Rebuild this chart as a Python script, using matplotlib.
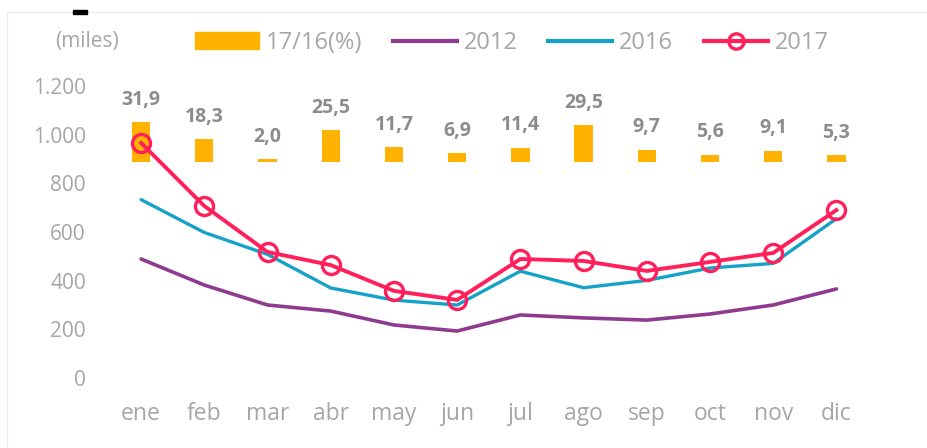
import numpy as np
import matplotlib.pyplot as plt
from matplotlib.patches import Rectangle, Patch
from matplotlib.lines import Line2D

plt.rcParams['font.family'] = ['Open Sans', 'DejaVu Sans']

# data
meses = ['ene', 'feb', 'mar', 'abr', 'may', 'jun', 'jul', 'ago', 'sep', 'oct', 'nov', 'dic']
v2012 = [489, 382, 300, 275, 218, 193, 259, 247, 238, 263, 300, 366]
v2016 = [733, 598, 508, 370, 320, 300, 439, 371, 401, 452, 471, 655]
v2017 = [966, 707, 518, 464, 358, 321, 489, 481, 440, 477, 514, 690]
pct = [31.9, 18.3, 2.0, 25.5, 11.7, 6.9, 11.4, 29.5, 9.7, 5.6, 9.1, 5.3]

gris = '#a6a6a6'
c_bar = '#ffb300'
c12 = '#8e3a8f'
c16 = '#15a2c9'
c17 = '#ff1f5a'

fig = plt.figure(figsize=(9.28, 4.48), dpi=100)
ax = fig.add_axes([109.5 / 928, 70 / 448, 758.5 / 928, 292 / 448])
ax2 = ax.twinx()
ax.set_zorder(ax2.get_zorder() + 1)
ax.patch.set_visible(False)

x = np.arange(len(meses))

# bars on secondary axis, baseline sits near 880 on the main scale
ax2.bar(x, pct, width=0.29, color=c_bar)
ax2.set_ylim(-172.8, 60.8)
ax2.set_yticks([])
for i, p in enumerate(pct):
    ax2.text(i, p + 10, f'{p:.1f}'.replace('.', ','), ha='center', va='bottom',
             fontsize=14, fontweight='bold', color='#8c8c8c')

ax.plot(x, v2012, color=c12, lw=2.6, solid_capstyle='round')
ax.plot(x, v2016, color=c16, lw=2.4, solid_capstyle='round')
ax.plot(x, v2017, color=c17, lw=2.8, marker='o', markersize=13,
        markerfacecolor='none', markeredgecolor=c17, markeredgewidth=2.4)

ax.set_xlim(-0.5, 11.5)
ax.set_ylim(0, 1200)
ax.set_xticks(x)
ax.set_xticklabels(meses, fontsize=16.5, color=gris)
ax.set_yticks(range(0, 1201, 200))
ax.set_yticklabels([f'{v:,}'.replace(',', '.') for v in range(0, 1201, 200)],
                   fontsize=15, color=gris)
ax.tick_params(length=0)
ax.tick_params(axis='x', pad=17)
ax.tick_params(axis='y', pad=17)
for a in (ax, ax2):
    for s in a.spines.values():
        s.set_visible(False)

fig.text(87 / 928, 1 - 41 / 448, '(miles)', ha='center', va='center',
         fontsize=15, color=gris)

handles = [
    Patch(color=c_bar),
    Line2D([], [], color=c12, lw=3),
    Line2D([], [], color=c16, lw=3),
    Line2D([], [], color=c17, lw=3, marker='o', markersize=11,
           markerfacecolor='none', markeredgewidth=2.4),
]
fig.legend(handles, ['17/16(%)', '2012', '2016', '2017'], ncol=4, frameon=False,
           loc='center', bbox_to_anchor=(512 / 928, 1 - 43 / 448),
           fontsize=17, labelcolor=gris, handlelength=2.7, handletextpad=0.3,
           columnspacing=1.3)

# faint frame and the little mark at the top
fig.patches.append(Rectangle((7 / 928, -0.1), 1.2, (448 - 12) / 448 + 0.1,
                             transform=fig.transFigure, fill=False,
                             edgecolor='#eeeeee', lw=1))
fig.patches.append(Rectangle((73 / 928, 1 - 14 / 448), 14 / 928, 4 / 448,
                             transform=fig.transFigure, color='black'))

fig.savefig('out.png', dpi=100)
